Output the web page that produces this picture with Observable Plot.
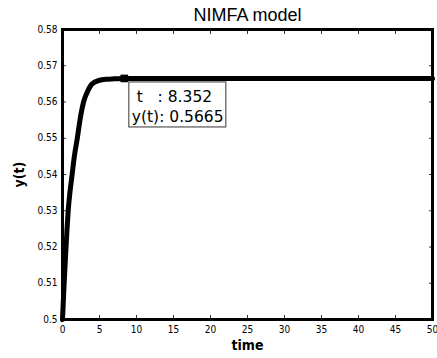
<!DOCTYPE html>
<html>
<head>
<meta charset="utf-8">
<script src="https://cdn.jsdelivr.net/npm/d3@7"></script>
<script src="https://cdn.jsdelivr.net/npm/@observablehq/plot@0.6"></script>
<style>
  html, body { margin: 0; padding: 0; background: #fff; }
</style>
</head>
<body>
<div id="chart"></div>
<script>
// Data
const timeValues = [0, 0.1, 0.2, 0.4, 0.6, 0.77, 1.0, 1.3, 1.6, 2.0, 2.4, 2.85, 3.3, 4.0, 5.0, 6.0, 7.0, 8.352, 20, 35, 50];
const yValues    = [0.5, 0.5045, 0.509, 0.517, 0.5245, 0.530, 0.535, 0.540, 0.545, 0.550, 0.5555, 0.560, 0.5625, 0.565, 0.566, 0.5663, 0.5664, 0.5665, 0.5665, 0.5665, 0.5665];
const markerT = [8.352];
const markerY = [0.5665];
const xTicks = [0, 5, 10, 15, 20, 25, 30, 35, 40, 45, 50];
const yTicks = [0.5, 0.51, 0.52, 0.53, 0.54, 0.55, 0.56, 0.57, 0.58];
const titleText = "NIMFA model";
const xLabel = "time";
const yLabel = "y(t)";
const annotationLines = [" t   : 8.352", "y(t): 0.5665"];

const curve = timeValues.map((t, i) => ({t, y: yValues[i]}));
const marker = markerT.map((t, i) => ({t, y: markerY[i]}));

const fmtY = d => (Math.round(d * 100) / 100).toString();

const chart = Plot.plot({
  width: 437,
  height: 358,
  marginLeft: 62,
  marginRight: 5,
  marginTop: 29,
  marginBottom: 39,
  style: {background: "#fff", color: "#000", fontFamily: "'DejaVu Sans Condensed', 'DejaVu Sans', sans-serif"},
  x: {type: "linear", domain: [0, 50]},
  y: {type: "linear", domain: [0.5, 0.58]},
  marks: [
    Plot.axisX({ticks: xTicks, tickSize: -4, tickPadding: 10, anchor: "bottom", label: null, fontSize: 10, stroke: "#333"}),
    Plot.axisX({ticks: xTicks, tickSize: -4, anchor: "top", label: null, tickFormat: () => "", stroke: "#333"}),
    Plot.axisY({ticks: yTicks, tickSize: -4, tickPadding: 9, anchor: "left", label: null, tickFormat: fmtY, fontSize: 10, stroke: "#333"}),
    Plot.axisY({ticks: yTicks, tickSize: -4, anchor: "right", label: null, tickFormat: () => "", stroke: "#333"}),
    Plot.frame({stroke: "#000", strokeWidth: 3}),
    Plot.line(curve, {x: "t", y: "y", stroke: "#000", strokeWidth: 5, curve: "monotone-x"}),
    Plot.dot(marker, {x: "t", y: "y", symbol: "square", r: 4.3, fill: "#000", stroke: "none"}),
    // annotation box (a data tip attached to the marker)
    Plot.dot(marker, {x: "t", y: "y",
      render: (index, scales, values) => {
        const g = d3.create("svg:g");
        for (const i of index) {
          const x = values.x[i] + 5;
          const y = values.y[i] + 4;
          g.append("rect").attr("x", x).attr("y", y).attr("width", 97).attr("height", 45)
            .attr("fill", "#fff").attr("stroke", "#555").attr("stroke-width", 1.2);
          annotationLines.forEach((s, j) => {
            g.append("text").attr("x", x + 3).attr("y", y + 20 + j * 20)
              .attr("text-anchor", "start")
              .attr("font-family", "'DejaVu Sans', sans-serif").attr("font-size", 15.5)
              .attr("fill", "#000").style("white-space", "pre").text(s);
          });
        }
        return g.node();
      }
    }),
    Plot.text([titleText], {frameAnchor: "top", lineAnchor: "middle", textAnchor: "middle", dy: -14, text: d => d, fontSize: 18, fontFamily: "'Liberation Sans', Arial, sans-serif", fill: "#000"}),
    Plot.text([xLabel], {frameAnchor: "bottom", lineAnchor: "middle", textAnchor: "middle", dy: 26, text: d => d, fontSize: 14, fontWeight: "bold", fontFamily: "'DejaVu Sans Condensed', 'DejaVu Sans', sans-serif", fill: "#000"}),
    Plot.text([yLabel], {frameAnchor: "left", lineAnchor: "middle", textAnchor: "middle", dx: -43, rotate: -90, text: d => d, fontSize: 14, fontWeight: "bold", fontFamily: "'DejaVu Sans Condensed', 'DejaVu Sans', sans-serif", fill: "#000"})
  ]
});

document.getElementById("chart").appendChild(chart);
</script>
</body>
</html>
